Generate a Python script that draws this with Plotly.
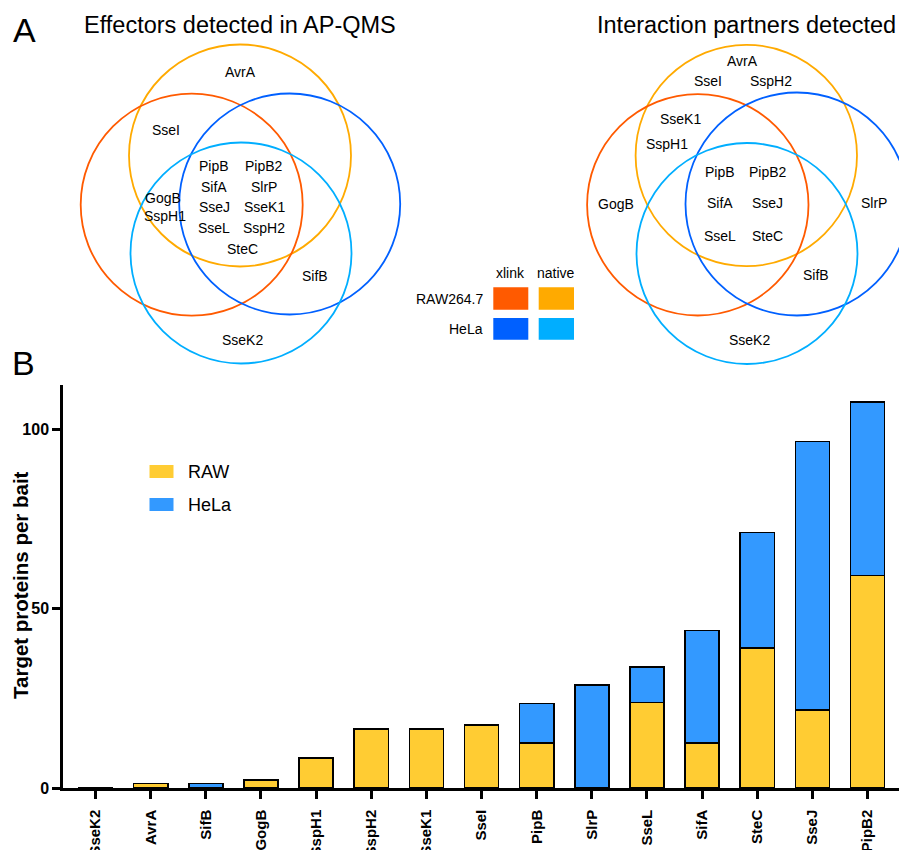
import plotly.graph_objects as go

W, H = 899, 850

# ---------------- data ----------------
baits = ["SseK2", "AvrA", "SifB", "GogB", "SspH1", "SspH2", "SseK1", "SseI",
         "PipB", "SlrP", "SseL", "SifA", "SteC", "SseJ", "PipB2"]
raw_counts = [0, 1.3, 0, 2.3, 8.4, 16.5, 16.5, 17.5, 12.6, 0, 23.8, 12.6, 39, 21.7, 59.2]
hela_counts = [0, 0, 1.3, 0, 0, 0, 0, 0, 11, 28.7, 10, 31.3, 32.2, 74.9, 48.4]
y_ticks = [0, 50, 100]

venn_left_labels = ["AvrA", "SseI", "GogB", "SspH1", "PipB", "PipB2", "SifA", "SlrP",
                    "SseJ", "SseK1", "SseL", "SspH2", "SteC", "SifB", "SseK2"]
venn_right_labels = ["AvrA", "SseI", "SspH2", "SseK1", "SspH1", "GogB", "PipB", "PipB2",
                     "SifA", "SseJ", "SseL", "SteC", "SlrP", "SifB", "SseK2"]

# ---------------- styles / layout positions (pixels) ----------------
YELLOW = "#FFCC33"
BLUE = "#3399FF"
C_RAW_X = "#FF5A00"
C_RAW_N = "#FFAA00"
C_HELA_X = "#0060FF"
C_HELA_N = "#00AEFF"
FONT = "Liberation Sans, Arial, sans-serif"

def X(px):
    return px / W

def Y(py):
    return 1 - py / H

fig = go.Figure()

fig.add_trace(go.Bar(x=baits, y=raw_counts, name="RAW", marker=dict(color=YELLOW, line=dict(color="black", width=1.6)),
                     width=0.62, showlegend=False))
fig.add_trace(go.Bar(x=baits, y=hela_counts, name="HeLa", marker=dict(color=BLUE, line=dict(color="black", width=1.6)),
                     width=0.62, showlegend=False))

shapes = []
annotations = []

# Venn circles: (cx, cy, r, color)
left_circles = [(240, 155.5, 111, C_RAW_N), (191.7, 204.7, 111, C_RAW_X),
                (289.7, 204, 110.5, C_HELA_X), (241, 253, 110.5, C_HELA_N)]
right_circles = [(746.3, 155.5, 110.7, C_RAW_N), (697.8, 204.8, 110.7, C_RAW_X),
                 (797, 204, 111.5, C_HELA_X), (747, 253.5, 110.5, C_HELA_N)]
for cx, cy, r, col in left_circles + right_circles:
    shapes.append(dict(type="circle", xref="paper", yref="paper",
                       x0=X(cx - r), x1=X(cx + r), y0=Y(cy + r), y1=Y(cy - r),
                       line=dict(color=col, width=1.8)))

left_pos = [(240, 72), (166, 130), (163.3, 197.7), (165, 216), (214, 165.7), (264.3, 165.7),
            (214, 187.3), (264.3, 187.3), (214, 207.3), (264.3, 207.3), (214, 228), (264.3, 228),
            (242.3, 249), (315, 276.3), (242.3, 340.3)]
right_pos = [(742.3, 60.7), (708.3, 81), (771, 81), (680.7, 118.7), (666.7, 144), (616, 203.7),
             (720, 172), (767.7, 172), (720, 203), (767.7, 203), (720, 235.7), (767.7, 235.7),
             (874.3, 203), (816, 275), (749.3, 340.3)]
for labels, pos in ((venn_left_labels, left_pos), (venn_right_labels, right_pos)):
    for t, (px, py) in zip(labels, pos):
        annotations.append(dict(x=X(px), y=Y(py), xref="paper", yref="paper", text=t, showarrow=False,
                                xanchor="center", yanchor="middle", font=dict(family=FONT, size=14, color="black")))

# titles and panel letters
annotations.append(dict(x=X(240), y=Y(25), xref="paper", yref="paper", text="Effectors detected in AP-QMS",
                        showarrow=False, xanchor="center", yanchor="middle", font=dict(family=FONT, size=23.5, color="black")))
annotations.append(dict(x=X(746.5), y=Y(25), xref="paper", yref="paper", text="Interaction partners detected",
                        showarrow=False, xanchor="center", yanchor="middle", font=dict(family=FONT, size=23.5, color="black")))
annotations.append(dict(x=X(24), y=Y(30), xref="paper", yref="paper", text="A",
                        showarrow=False, xanchor="center", yanchor="middle", font=dict(family=FONT, size=34, color="black")))
annotations.append(dict(x=X(23), y=Y(363), xref="paper", yref="paper", text="B",
                        showarrow=False, xanchor="center", yanchor="middle", font=dict(family=FONT, size=34, color="black")))

# Venn legend
annotations.append(dict(x=X(511), y=Y(273.3), xref="paper", yref="paper", text="xlink", showarrow=False,
                        xanchor="center", yanchor="middle", font=dict(family=FONT, size=14, color="black")))
annotations.append(dict(x=X(556), y=Y(273.3), xref="paper", yref="paper", text="native", showarrow=False,
                        xanchor="center", yanchor="middle", font=dict(family=FONT, size=14, color="black")))
annotations.append(dict(x=X(485), y=Y(298.5), xref="paper", yref="paper", text="RAW264.7", showarrow=False,
                        xanchor="right", yanchor="middle", font=dict(family=FONT, size=14, color="black")))
annotations.append(dict(x=X(485), y=Y(329), xref="paper", yref="paper", text="HeLa", showarrow=False,
                        xanchor="right", yanchor="middle", font=dict(family=FONT, size=14, color="black")))
for (x0, x1, y0, y1, col) in [(493.3, 528.3, 287.3, 309.7, C_RAW_X), (538.7, 574, 287.3, 309.7, C_RAW_N),
                              (493.3, 528.3, 318, 339.7, C_HELA_X), (538.7, 574, 318, 339.7, C_HELA_N)]:
    shapes.append(dict(type="rect", xref="paper", yref="paper", x0=X(x0), x1=X(x1), y0=Y(y1), y1=Y(y0),
                       fillcolor=col, line=dict(width=0)))

# Bar legend
for (y0, y1, col, t) in [(465, 478, YELLOW, "RAW"), (498, 511, BLUE, "HeLa")]:
    shapes.append(dict(type="rect", xref="paper", yref="paper", x0=X(149.5), x1=X(173.5), y0=Y(y1), y1=Y(y0),
                       fillcolor=col, line=dict(width=0)))
    annotations.append(dict(x=X(186), y=Y((y0 + y1) / 2), xref="paper", yref="paper", text=t, showarrow=False,
                            xanchor="left", yanchor="middle", font=dict(family=FONT, size=18, color="black")))

# y-axis title
annotations.append(dict(x=X(20), y=Y(585), xref="paper", yref="paper", text="<b>Target proteins per bait</b>",
                        showarrow=False, textangle=-90, xanchor="center", yanchor="middle",
                        font=dict(family=FONT, size=20.5, color="black")))

fig.update_layout(
    width=W, height=H, barmode="stack",
    margin=dict(l=0, r=0, t=0, b=0, autoexpand=False),
    paper_bgcolor="white", plot_bgcolor="rgba(0,0,0,0)",
    shapes=shapes, annotations=annotations,
    xaxis=dict(domain=[X(63), 1], range=[-0.59, 14.57], showline=True, linecolor="black", linewidth=2.5,
               ticks="outside", ticklen=8, tickwidth=2.5, tickcolor="black", tickangle=-90,
               ticklabelstandoff=5,
               tickfont=dict(family=FONT, size=15, color="black", weight="bold"), showgrid=False, zeroline=False),
    yaxis=dict(domain=[1 - 788 / H, 1 - 385 / H], range=[0, 112.3], showline=True, linecolor="black", linewidth=2.5,
               ticks="outside", ticklen=8, tickwidth=2.5, tickcolor="black", tickvals=y_ticks,
               tickfont=dict(family=FONT, size=16, color="black", weight="bold"), showgrid=False, zeroline=False),
)

fig.write_html("out.html", post_script="document.body.style.margin='0px';",
               config={"displayModeBar": False})
